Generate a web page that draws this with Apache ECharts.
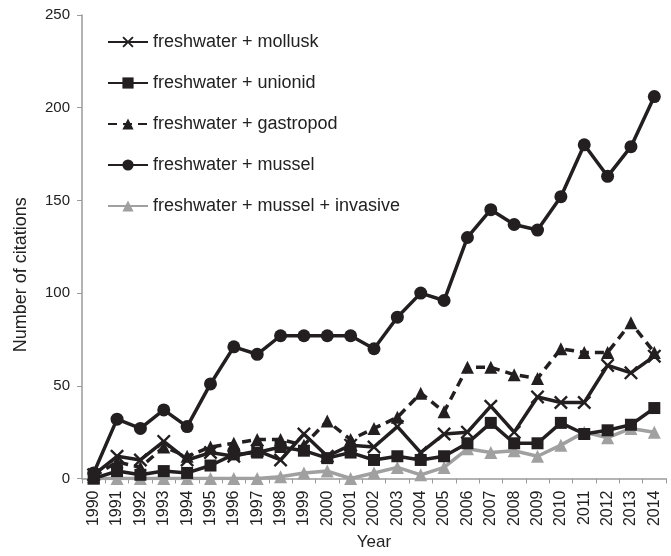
<!DOCTYPE html>
<html>
<head>
<meta charset="utf-8">
<script src="https://cdn.jsdelivr.net/npm/echarts@6/dist/echarts.min.js"></script>
<style>
  html, body { margin: 0; padding: 0; background: #fff; }
  #chart { width: 671px; height: 556px; }
</style>
</head>
<body>
<div id="chart"></div>
<script>
var years = ['1990','1991','1992','1993','1994','1995','1996','1997','1998','1999','2000','2001','2002',
             '2003','2004','2005','2006','2007','2008','2009','2010','2011','2012','2013','2014'];

var mollusk   = [2, 12, 10, 20, 10, 14, 12, 15, 10, 24, 12, 18, 17, 28, 14, 24, 25, 39, 25, 44, 41, 41, 61, 57, 66];
var unionid   = [0, 4, 2, 4, 3, 7, 13, 14, 17, 15, 11, 14, 10, 12, 10, 12, 19, 30, 19, 19, 30, 24, 26, 29, 38];
var gastropod = [1, 9, 6, 17, 12, 17, 19, 21, 21, 18, 31, 21, 27, 33, 46, 36, 60, 60, 56, 54, 70, 68, 68, 84, 68];
var mussel    = [3, 32, 27, 37, 28, 51, 71, 67, 77, 77, 77, 77, 70, 87, 100, 96, 130, 145, 137, 134, 152, 180, 163, 179, 206];
var invasive  = [0, 0, 0, 0, 0, 0, 0, 0, 1, 3, 4, 0, 3, 6, 2, 6, 16, 14, 15, 12, 18, 25, 22, 27, 25];

var yTicks = [0, 50, 100, 150, 200, 250];

var FONT = '"Liberation Sans", Arial, sans-serif';
var BLACK = '#231f20';
var GREY = '#a0a0a0';
var AXIS = '#9a9a9a';

// a thin filled "x" so the marker looks like a cross
var crossSym = 'path://M0,1.2L1.2,0L5,3.8L8.8,0L10,1.2L6.2,5L10,8.8L8.8,10L5,6.2L1.2,10L0,8.8L3.8,5Z';

var chart = echarts.init(document.getElementById('chart'));

function lineSeries(name, data, sym, size, color, dashed, z) {
  return {
    name: name,
    type: 'line',
    data: data,
    symbol: sym,
    symbolSize: size,
    z: z,
    itemStyle: { color: color },
    lineStyle: { color: color, width: 3.5, type: dashed ? [9, 6] : 'solid' },
    emphasis: { disabled: true },
    animation: false
  };
}

var option = {
  grid: { left: 82, right: 5, top: 15, bottom: 71 },
  textStyle: { fontFamily: FONT },
  legend: {
    orient: 'vertical',
    left: 102,
    top: 28,
    itemWidth: 40,
    itemHeight: 14,
    itemGap: 23,
    textStyle: { fontFamily: FONT, fontSize: 18, color: '#222' },
    data: ['freshwater + mollusk', 'freshwater + unionid', 'freshwater + gastropod',
           'freshwater + mussel', 'freshwater + mussel + invasive']
  },
  xAxis: {
    type: 'category',
    data: years,
    boundaryGap: true,
    name: 'Year',
    nameLocation: 'middle',
    nameGap: 55,
    nameTextStyle: { fontSize: 17, color: '#222', fontFamily: FONT },
    axisLine: { lineStyle: { color: AXIS, width: 1.5 } },
    axisTick: { show: true, length: 5, lineStyle: { color: AXIS } },
    axisLabel: { rotate: 90, fontSize: 16, color: '#222', margin: 12, fontFamily: FONT, interval: 0 },
    splitLine: { show: false }
  },
  yAxis: {
    type: 'value',
    min: yTicks[0],
    max: yTicks[yTicks.length - 1],
    interval: 50,
    name: 'Number of citations',
    nameLocation: 'middle',
    nameGap: 52,
    nameTextStyle: { fontSize: 18, color: '#222', fontFamily: FONT, padding: [0, 56, 0, 0] },
    axisLine: { show: true, lineStyle: { color: AXIS, width: 1.5 } },
    axisTick: { show: true, length: 5, lineStyle: { color: AXIS } },
    axisLabel: { fontSize: 15, color: '#222', margin: 12, fontFamily: FONT },
    splitLine: { show: false }
  },
  series: [
    lineSeries('freshwater + mollusk', mollusk, crossSym, 14, BLACK, false, 3),
    lineSeries('freshwater + unionid', unionid, 'rect', 12, BLACK, false, 4),
    lineSeries('freshwater + gastropod', gastropod, 'triangle', 13, BLACK, true, 5),
    lineSeries('freshwater + mussel', mussel, 'circle', 13, BLACK, false, 6),
    lineSeries('freshwater + mussel + invasive', invasive, 'triangle', 13, GREY, false, 2)
  ]
};

chart.setOption(option);
</script>
</body>
</html>
